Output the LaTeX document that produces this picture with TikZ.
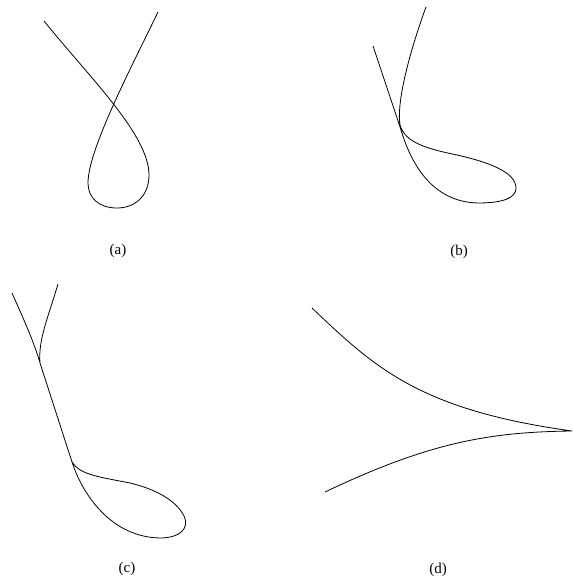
\documentclass[tikz,border=0pt]{standalone}
\usepackage{fontspec}
\setmainfont{Liberation Serif}
\usepackage{xcolor}
\usepackage{tikz}
\usetikzlibrary{positioning}
\definecolor{ink}{HTML}{000000}
\tikzset{
  crv/.style={draw=ink,line width=0.8pt,line join=round},
  lbl/.style={font=\fontsize{15}{17}\selectfont,text=ink,inner sep=0pt},
}

\begin{document}
\begin{tikzpicture}[x=1pt,y=-1pt]
  \useasboundingbox (0,0) rectangle (572,580);
  % (a) loop
  \draw[crv] (44,21) .. controls (90,78) and (149,135) .. (149,175)
    .. controls (149,196) and (135,208) .. (117,208)
    .. controls (99,208) and (88,198) .. (88,183)
    .. controls (88,150) and (130,70) .. (158,12);
  % (b)
  \draw[crv] (373,46) .. controls (385,82) and (395,112) .. (401,130)
    .. controls (410,160) and (430,202) .. (478,203)
    .. controls (503,203) and (516,198) .. (516,188)
    .. controls (516,172) and (488,162) .. (457,155)
    .. controls (428,149) and (405,143) .. (400,125)
    .. controls (396,100) and (412,45) .. (426,7);
  % (c)
  \draw[crv] (12,293) .. controls (25,322) and (35,345) .. (40,363) -- (72,462)
    .. controls (82,493) and (110,537) .. (160,538)
    .. controls (180,538) and (190,528) .. (184,516)
    .. controls (176,500) and (155,489) .. (130,483)
    .. controls (100,477) and (80,475) .. (72,462) -- (40,363)
    .. controls (38,340) and (48,318) .. (58,284);
  % (d) cusp
  \draw[crv] (312,308) .. controls (375,368) and (420,410) .. (572,431)
    .. controls (490,432) and (430,442) .. (325,492);
  \node[lbl] (la) at (118,251) {(a)};
  \node[lbl] (lb) at (459,252) {(b)};
  \node[lbl] (lc) at (127,569) {(c)};
  \node[lbl] (ld) at (438,570) {(d)};
\end{tikzpicture}
\end{document}
